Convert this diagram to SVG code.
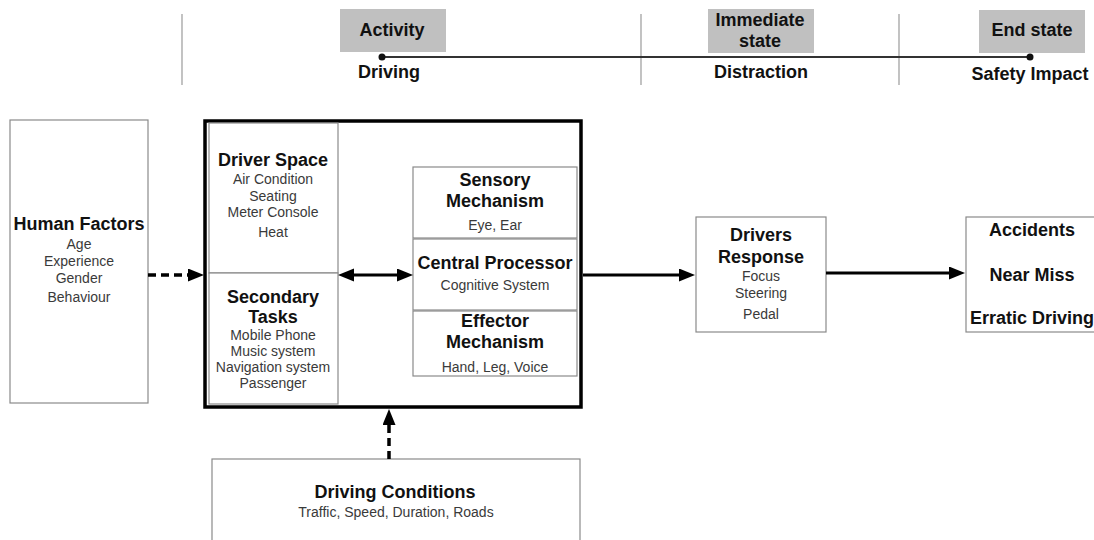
<svg xmlns="http://www.w3.org/2000/svg" width="1094" height="540" viewBox="0 0 1094 540">
<style>
.bx{fill:#fff;stroke:#8a8a8a;stroke-width:1.2}
.gb{fill:#c0c0c0;stroke:none}
.h{font-family:"Liberation Sans",Arial,sans-serif;font-weight:bold;font-size:18px;fill:#111;text-anchor:middle}
.s{font-family:"Liberation Sans",Arial,sans-serif;font-size:14px;fill:#3a3a3a;text-anchor:middle}
.vl{stroke:#9a9a9a;stroke-width:1.2}
.ar{stroke:#000;stroke-width:3;fill:none}
.da{stroke:#000;stroke-width:3.5;fill:none;stroke-dasharray:8 5}
</style>
<defs>
<marker id="ah" markerUnits="userSpaceOnUse" markerWidth="18" markerHeight="14" refX="4" refY="6.5" orient="auto-start-reverse" viewBox="0 0 18 14">
<path d="M0,0 L16,6.5 L0,13 z" fill="#000" stroke="none"/>
</marker>
</defs>

<g id="timeline">
<line class="vl" x1="182" y1="14" x2="182" y2="85"/>
<line class="vl" x1="641" y1="14" x2="641" y2="85"/>
<line class="vl" x1="899" y1="14" x2="899" y2="85"/>
<rect class="gb" x="340" y="9" width="106" height="43"/>
<rect class="gb" x="708" y="9" width="106" height="44"/>
<rect class="gb" x="979" y="10" width="106" height="43"/>
<line x1="382" y1="57" x2="1030" y2="57" stroke="#333" stroke-width="2"/>
<circle cx="382" cy="57" r="3.5" fill="#111"/>
<circle cx="1030" cy="57" r="3.5" fill="#111"/>
<text class="h" x="392" y="36">Activity</text>
<text class="h" x="389" y="78">Driving</text>
<text class="h" x="760" y="26">Immediate</text>
<text class="h" x="760" y="47">state</text>
<text class="h" x="761" y="78">Distraction</text>
<text class="h" x="1032" y="36">End state</text>
<text class="h" x="1030" y="80">Safety Impact</text>
</g>

<g id="human-factors">
<rect class="bx" x="10" y="120" width="138" height="283"/>
<text class="h" x="79" y="230">Human Factors</text>
<text class="s" x="79" y="249">Age</text>
<text class="s" x="79" y="266">Experience</text>
<text class="s" x="79" y="283">Gender</text>
<text class="s" x="79" y="302">Behaviour</text>
</g>

<g id="distraction-box">
<rect x="205" y="121" width="376" height="286" fill="none" stroke="#000" stroke-width="3.5"/>
</g>

<g id="driver-space">
<rect class="bx" x="209" y="123" width="129" height="150"/>
<text class="h" x="273" y="166">Driver Space</text>
<text class="s" x="273" y="184">Air Condition</text>
<text class="s" x="273" y="201">Seating</text>
<text class="s" x="273" y="217">Meter Console</text>
<text class="s" x="273" y="237">Heat</text>
</g>

<g id="secondary-tasks">
<rect class="bx" x="209" y="273" width="129" height="131"/>
<text class="h" x="273" y="303">Secondary</text>
<text class="h" x="273" y="323">Tasks</text>
<text class="s" x="273" y="340">Mobile Phone</text>
<text class="s" x="273" y="356">Music system</text>
<text class="s" x="273" y="372">Navigation system</text>
<text class="s" x="273" y="388">Passenger</text>
</g>

<g id="sensory">
<rect class="bx" x="413" y="167" width="164" height="71"/>
<text class="h" x="495" y="186">Sensory</text>
<text class="h" x="495" y="207">Mechanism</text>
<text class="s" x="495" y="230">Eye, Ear</text>
</g>

<g id="central">
<rect class="bx" x="413" y="239" width="164" height="71"/>
<text class="h" x="495" y="269">Central Processor</text>
<text class="s" x="495" y="290">Cognitive System</text>
</g>

<g id="effector">
<rect class="bx" x="413" y="311" width="164" height="65"/>
<text class="h" x="495" y="327">Effector</text>
<text class="h" x="495" y="348">Mechanism</text>
<text class="s" x="495" y="372">Hand, Leg, Voice</text>
</g>

<g id="drivers-response">
<rect class="bx" x="696" y="217" width="130" height="115"/>
<text class="h" x="761" y="241">Drivers</text>
<text class="h" x="761" y="263">Response</text>
<text class="s" x="761" y="281">Focus</text>
<text class="s" x="761" y="298">Steering</text>
<text class="s" x="761" y="319">Pedal</text>
</g>

<g id="outcomes">
<rect class="bx" x="966" y="217" width="140" height="115"/>
<text class="h" x="1032" y="236">Accidents</text>
<text class="h" x="1032" y="281">Near Miss</text>
<text class="h" x="1032" y="324">Erratic Driving</text>
</g>

<g id="driving-conditions">
<rect class="bx" x="212" y="459" width="368" height="90"/>
<text class="h" x="395" y="498">Driving Conditions</text>
<text class="s" x="396" y="517">Traffic, Speed, Duration, Roads</text>
</g>

<g id="connectors">
<line class="da" x1="148" y1="275" x2="192" y2="275" marker-end="url(#ah)"/>
<line class="ar" x1="350" y1="275" x2="401" y2="275" marker-start="url(#ah)" marker-end="url(#ah)"/>
<line class="ar" x1="583" y1="275" x2="683" y2="275" marker-end="url(#ah)"/>
<line class="ar" x1="826" y1="273" x2="953" y2="273" marker-end="url(#ah)"/>
<line class="da" x1="389" y1="459" x2="389" y2="421" marker-end="url(#ah)"/>
</g>
</svg>
